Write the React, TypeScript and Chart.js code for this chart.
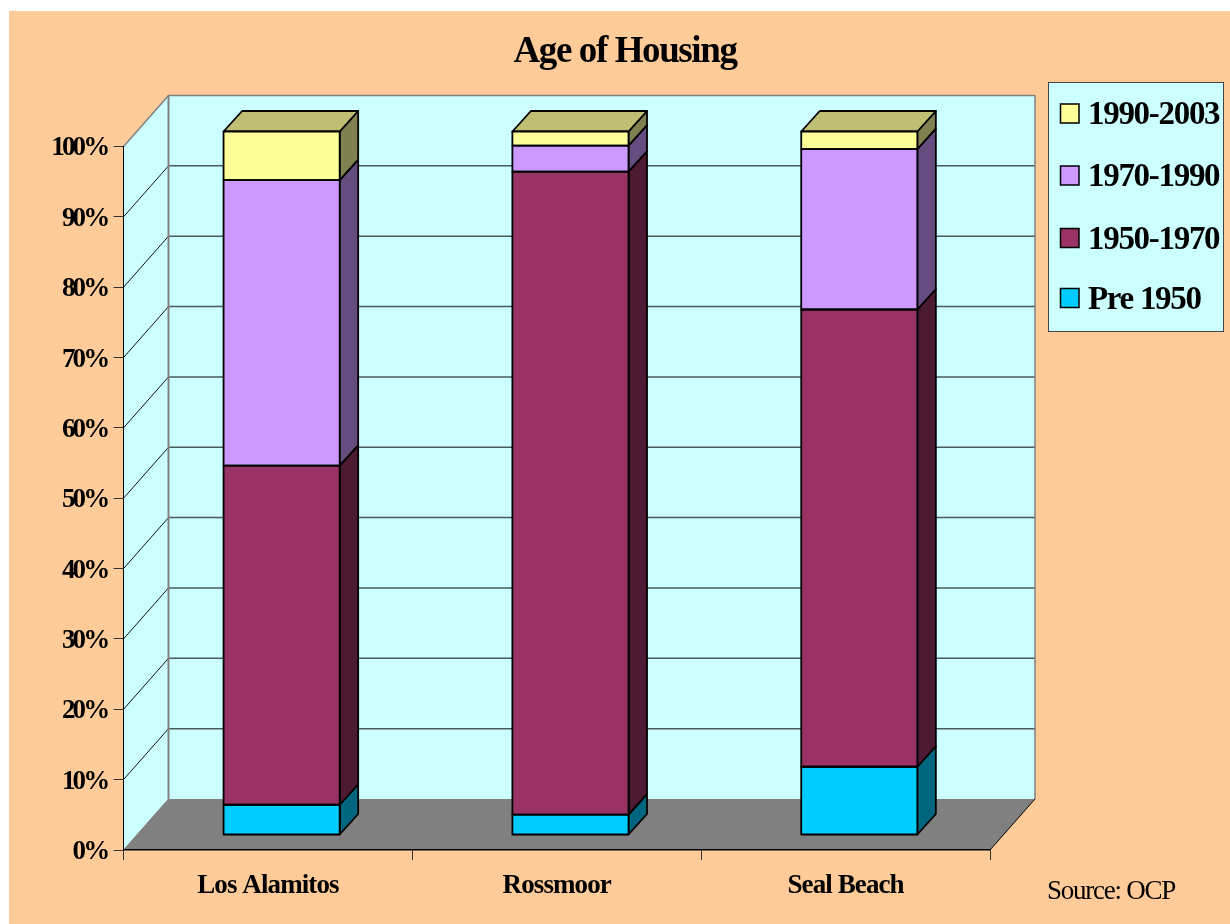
import React, { useEffect, useRef } from "react";
import { Chart, registerables } from "chart.js";

Chart.register(...registerables);

const categories = ["Los Alamitos", "Rossmoor", "Seal Beach"];
const pre1950 = [4.3, 2.9, 9.7];
const y1950to1970 = [48.2, 91.4, 65.0];
const y1970to1990 = [40.6, 3.7, 22.8];
const y1990to2003 = [6.9, 2.0, 2.5];
const seriesLabels = ["Pre 1950", "1950-1970", "1970-1990", "1990-2003"];
const seriesColors = ["#00CCFF", "#993366", "#CC99FF", "#FFFF99"];
const sideColors = ["#006680", "#4D1A33", "#664D80", "#808050"];
const topColor = "#BFBF73";
const titleText = "Age of Housing";
const sourceText = "Source: OCP";

const SERIF = '"Liberation Serif", "Times New Roman", serif';
const WALL_DX = 45;
const WALL_DY = -51;
const BAR_OFF_X = 13.7;
const BAR_OFF_Y = -15;
const BAR_DX = 18.5;
const BAR_DY = -20.5;

function poly(ctx: any, pts: number[][], fill: string | null, stroke: string | null, lw = 1) {
  ctx.beginPath();
  pts.forEach((p, i) => (i ? ctx.lineTo(p[0], p[1]) : ctx.moveTo(p[0], p[1])));
  ctx.closePath();
  if (fill) {
    ctx.fillStyle = fill;
    ctx.fill();
  }
  if (stroke) {
    ctx.strokeStyle = stroke;
    ctx.lineWidth = lw;
    ctx.stroke();
  }
}

function seg(ctx: any, x1: number, y1: number, x2: number, y2: number, color: string, lw: number) {
  ctx.beginPath();
  ctx.moveTo(x1, y1);
  ctx.lineTo(x2, y2);
  ctx.strokeStyle = color;
  ctx.lineWidth = lw;
  ctx.stroke();
}

function drawText(ctx: any, s: string, x: number, y: number, font: string, align: string, spacing: string) {
  ctx.save();
  ctx.font = font;
  ctx.fillStyle = "#000";
  ctx.textAlign = align;
  ctx.textBaseline = "middle";
  ctx.letterSpacing = spacing;
  ctx.fillText(s, x, y);
  ctx.restore();
}

function spaceLabels(scale: any, spacing: string) {
  const original = scale.drawLabels;
  scale.drawLabels = function (area: any) {
    const ctx = this.ctx;
    ctx.save();
    ctx.letterSpacing = spacing;
    original.call(this, area);
    ctx.restore();
  };
}

const housingPlugin = {
  id: "housing3d",
  beforeDraw(chart: any) {
    const { ctx, chartArea: a, scales } = chart;
    const { left, right, top, bottom } = a;
    ctx.save();
    ctx.fillStyle = "#FFCC99";
    ctx.fillRect(9, 11, chart.width - 9, chart.height - 11);

    const bx = left + WALL_DX;
    const rx = right + WALL_DX;
    const by = bottom + WALL_DY;
    const ty = top + WALL_DY;
    // side wall, back wall, floor
    poly(ctx, [[left, bottom], [left, top], [bx, ty], [bx, by]], "#CCFFFF", null);
    ctx.fillStyle = "#CCFFFF";
    ctx.fillRect(bx, ty, rx - bx, by - ty);
    poly(ctx, [[left, bottom], [bx, by], [rx, by], [right, bottom]], "#808080", null);

    // gridlines follow the value scale on both walls
    scales.y.ticks.forEach((t: any) => {
      if (t.value === 0 || t.value === 100) return;
      const p = scales.y.getPixelForValue(t.value);
      seg(ctx, left, p, bx, p + WALL_DY, "#111", 1);
      seg(ctx, bx, p + WALL_DY, rx, p + WALL_DY, "#4a5a5a", 1.5);
    });

    // wall edges
    seg(ctx, left, top, bx, ty, "#808080", 1.5);
    seg(ctx, bx, ty, rx, ty, "#808080", 1.5);
    seg(ctx, bx, ty, bx, by, "#808080", 2);
    seg(ctx, rx, ty, rx, by, "#808080", 1.5);
    seg(ctx, left, bottom, bx, by, "#808080", 1);
    seg(ctx, right, bottom, rx, by, "#000", 1);
    ctx.restore();

    // value labels are tight in the reference, category labels less so
    if (!chart.$spaced) {
      spaceLabels(scales.y, "-2.8px");
      spaceLabels(scales.x, "-0.9px");
      chart.$spaced = true;
    }
  },
  beforeDatasetsDraw(chart: any) {
    const { ctx } = chart;
    ctx.save();
    ctx.translate(BAR_OFF_X, BAR_OFF_Y);
    ctx.lineJoin = "round";
    chart.data.datasets.forEach((ds: any, di: number) => {
      const meta = chart.getDatasetMeta(di);
      meta.data.forEach((el: any) => {
        const { x, y, base, width } = el.getProps(["x", "y", "base", "width"], true);
        const r = x + width / 2;
        const l = x - width / 2;
        poly(
          ctx,
          [[r, y], [r + BAR_DX, y + BAR_DY], [r + BAR_DX, base + BAR_DY], [r, base]],
          sideColors[di],
          "#000",
          1.8,
        );
        if (di === chart.data.datasets.length - 1) {
          poly(ctx, [[l, y], [l + BAR_DX, y + BAR_DY], [r + BAR_DX, y + BAR_DY], [r, y]], topColor, "#000", 1.8);
        }
      });
    });
  },
  afterDatasetsDraw(chart: any) {
    const { ctx } = chart;
    chart.data.datasets.forEach((_ds: any, di: number) => {
      chart.getDatasetMeta(di).data.forEach((el: any) => {
        const { x, y, base, width } = el.getProps(["x", "y", "base", "width"], true);
        ctx.strokeStyle = "#000";
        ctx.lineWidth = 1.8;
        ctx.strokeRect(x - width / 2, y, width, base - y);
      });
    });
    ctx.restore();
  },
  afterDraw(chart: any) {
    const { ctx } = chart;
    drawText(ctx, titleText, 625, 52, `bold 37px ${SERIF}`, "center", "-1.4px");
    drawText(ctx, sourceText, 1047, 892, `27px ${SERIF}`, "left", "-1.25px");

    // legend box, newest series first
    ctx.save();
    ctx.fillStyle = "#CCFFFF";
    ctx.fillRect(1048.5, 82.5, 175, 249);
    ctx.strokeStyle = "#444";
    ctx.lineWidth = 1;
    ctx.strokeRect(1048.5, 82.5, 175, 249);
    const rowTop = [104, 166, 228.5, 288.5];
    const count = chart.data.datasets.length;
    for (let row = 0; row < count; row++) {
      const ds = chart.data.datasets[count - 1 - row];
      ctx.fillStyle = ds.backgroundColor;
      ctx.fillRect(1060.5, rowTop[row], 18.5, 19);
      ctx.strokeStyle = "#000";
      ctx.lineWidth = 1.5;
      ctx.strokeRect(1060.5, rowTop[row], 18.5, 19);
      drawText(ctx, ds.label, 1088, rowTop[row] + 11.5, `bold 33px ${SERIF}`, "left", "-1.3px");
    }
    ctx.restore();
  },
};

export default function App() {
  const ref = useRef<HTMLCanvasElement | null>(null);
  useEffect(() => {
    const values = [pre1950, y1950to1970, y1970to1990, y1990to2003];
    const chart = new Chart(ref.current as HTMLCanvasElement, {
      type: "bar",
      data: {
        labels: categories,
        datasets: values.map((data, i) => ({
          label: seriesLabels[i],
          data,
          backgroundColor: seriesColors[i],
          borderWidth: 0,
          categoryPercentage: 1,
          barPercentage: 0.402,
        })),
      },
      options: {
        animation: false,
        responsive: false,
        devicePixelRatio: 1,
        layout: { padding: { left: 0, top: 146.5, right: 240, bottom: 0 } },
        plugins: { legend: { display: false }, title: { display: false }, tooltip: { enabled: false } },
        scales: {
          x: {
            stacked: true,
            offset: true,
            afterFit: (s: any) => {
              s.height = 74;
            },
            grid: { offset: true, drawOnChartArea: false, drawTicks: true, tickLength: 10, tickColor: "#333" },
            border: { color: "#000", width: 1.5 },
            ticks: {
              color: "#000",
              padding: 10,
              maxRotation: 0,
              autoSkip: false,
              font: { family: SERIF, size: 27, weight: "bold" },
            },
          },
          y: {
            stacked: true,
            min: 0,
            max: 100,
            afterFit: (s: any) => {
              s.width = 123.5;
            },
            grid: { drawOnChartArea: false, drawTicks: true, tickLength: 10, tickColor: "#333" },
            border: { color: "#000", width: 1 },
            ticks: {
              color: "#000",
              stepSize: 10,
              padding: 6,
              labelOffset: 2,
              callback: (v: any) => `${v}%`,
              font: { family: SERIF, size: 27, weight: "bold" },
            },
          },
        },
      } as any,
      plugins: [housingPlugin],
    });
    return () => chart.destroy();
  }, []);
  return (
    <canvas
      ref={ref}
      width={1230}
      height={924}
      style={{ position: "absolute", left: 0, top: 0, width: 1230, height: 924, display: "block" }}
    />
  );
}
